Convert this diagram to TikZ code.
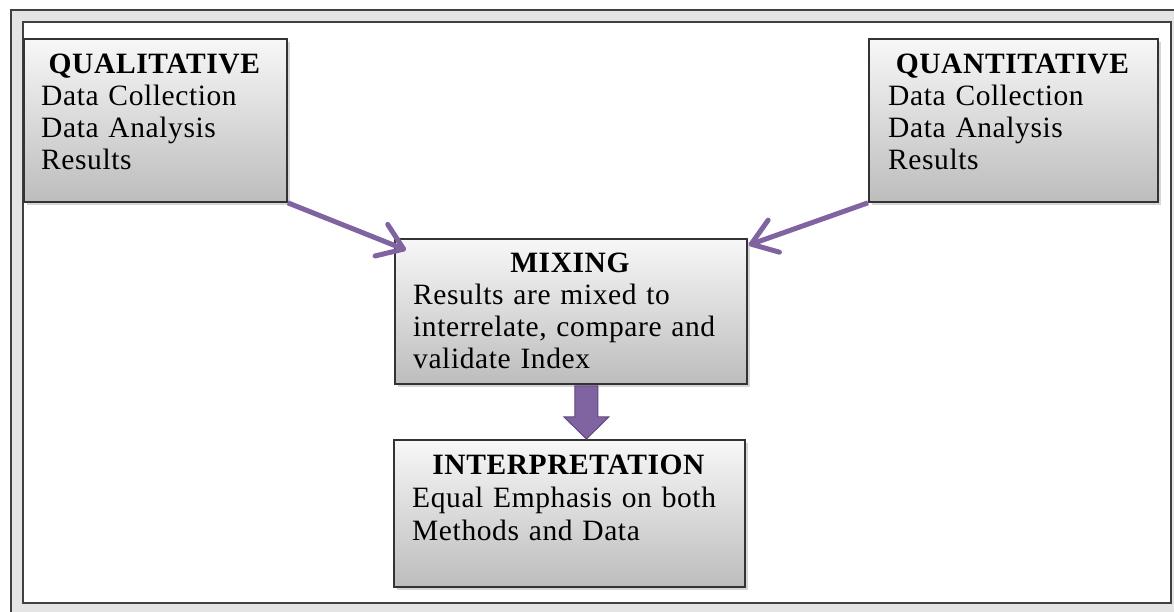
\documentclass[tikz,border=0pt]{standalone}
\usepackage{fontspec}
\setmainfont{Liberation Serif}[LetterSpace=2]
\usetikzlibrary{arrows.meta,calc,shadows}
\definecolor{arrowpurple}{HTML}{8064A2}
\definecolor{arrowdark}{HTML}{5E4A7A}
\definecolor{framegrey}{HTML}{E4E4E4}
\tikzset{
  box/.style={draw=black!80, line width=1.8pt, top color=black!3, bottom color=black!26,
    drop shadow={shadow xshift=3pt, shadow yshift=-3pt, fill=black!35, opacity=.45},
    anchor=north west, inner sep=0pt},
  txt/.style={font=\fontsize{29.5}{32}\selectfont, align=left, text width=420pt,
    inner sep=0pt, anchor=base west},
  conn/.style={draw=arrowpurple, line width=5pt,
    -{Straight Barb[length=24pt,width=34pt,round]}},
  blockarrow/.style={fill=arrowpurple, draw=arrowdark, line width=1pt, line join=miter}
}
\begin{document}
\begin{tikzpicture}[x=1pt,y=-1pt]
\useasboundingbox (0,0) rectangle (1174,611);
% frame
\draw[line width=2pt, draw=black!75, fill=framegrey] (11,10) rectangle (1200,640);
\draw[line width=2.5pt, draw=black!75, fill=white] (23,22) rectangle (1171,603);
% boxes
\node[box, minimum width=263pt, minimum height=163pt] (qual) at (23,38) {};
\node[box, minimum width=289pt, minimum height=163pt] (quant) at (868,38) {};
\node[box, minimum width=352pt, minimum height=145pt] (mix) at (394,238) {};
\node[box, minimum width=351pt, minimum height=147pt] (interp) at (393,439) {};
% texts
\node[txt] (qualtext) at ($(qual.north west)+(18,35)$)
  {\makebox[227pt][c]{\textbf{QUALITATIVE}}\\Data Collection\\Data Analysis\\Results};
\node[txt] (quanttext) at ($(quant.north west)+(20,35)$)
  {\makebox[249pt][c]{\textbf{QUANTITATIVE}}\\Data Collection\\Data Analysis\\Results};
\node[txt] (mixtext) at ($(mix.north west)+(19,34)$)
  {\makebox[314pt][c]{\textbf{MIXING}}\\Results are mixed to\\interrelate, compare and\\validate Index};
\node[txt, font=\fontsize{29.5}{33}\selectfont] (interptext) at ($(interp.north west)+(19,35)$)
  {\makebox[313pt][c]{\textbf{INTERPRETATION}}\\Equal Emphasis on both\\Methods and Data};
% connectors
\draw[conn] (qual.south east) -- ($(mix.north west)+(12,12)$);
\draw[conn] (quant.south west) -- ($(mix.north east)+(1,7)$);
% block arrow
\coordinate (ab) at ($(mix.south)+(15.5,1)$);
\coordinate (at) at (ab |- interp.north);
\draw[blockarrow] ($(ab)+(-11.5,0)$) -- ($(ab)+(11.5,0)$) -- ($(ab)+(11.5,31)$)
  -- ($(ab)+(22.5,31)$) -- (at) -- ($(ab)+(-22.5,31)$) -- ($(ab)+(-11.5,31)$) -- cycle;
\end{tikzpicture}
\end{document}
